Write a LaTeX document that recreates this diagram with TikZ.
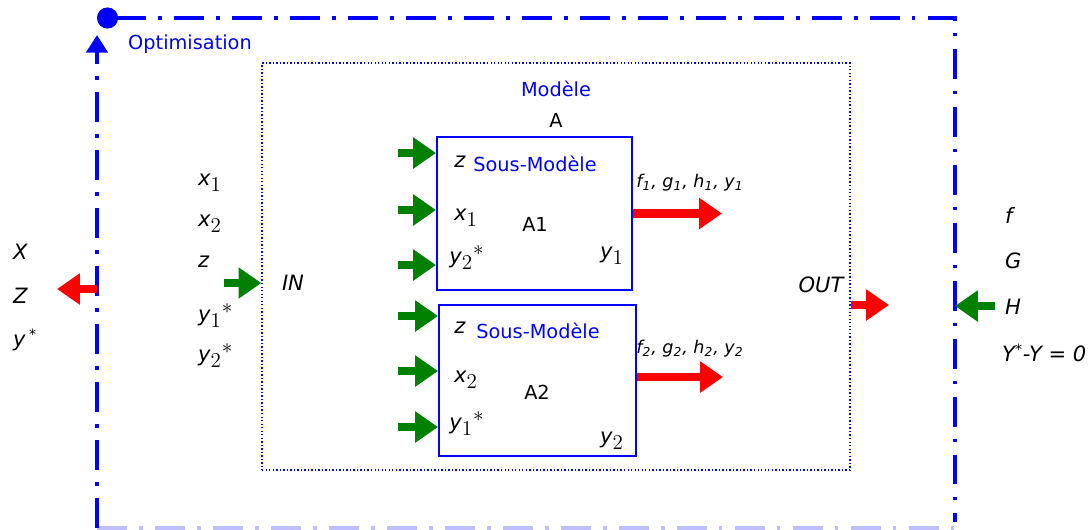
\documentclass[tikz,border=0pt]{standalone}
\usepackage[no-math]{fontspec}
\setmainfont{DejaVu Sans}
\usepackage{tikz}
\usetikzlibrary{positioning,arrows.meta}

\newcommand{\vsub}[1]{$_{\textstyle #1}$}
\newcommand{\vstar}{$^{\textstyle *}$}

\begin{document}
\begin{tikzpicture}[x=0.02cm, y=-0.02cm, font=\fontsize{11}{13}\selectfont, frame/.style={blue, line width=2.3pt, dash pattern=on 17pt off 7pt on 2pt off 7pt}, sub/.style={draw=blue, line width=1.1pt, minimum width=3.9cm, minimum height=3.06cm, inner sep=0pt}, inarrow/.style={-{Triangle[width=17pt,length=13pt]}, line width=5pt, green!50!black}, outarrow/.style={-{Triangle[width=17pt,length=13pt]}, line width=5pt, red}, var/.style={inner sep=1pt, font=\fontsize{12}{14}\selectfont\itshape}, res/.style={inner sep=1pt, font=\fontsize{10}{12}\selectfont\itshape}]

\useasboundingbox (0,0) rectangle (1091,529);

% cadre optimisation
\coordinate (tl) at (97,18);
\coordinate (tr) at (955,18);
\coordinate (re) at (955,522);
\coordinate (br) at (955,528);
\coordinate (bl) at (97,528);
\coordinate (lt) at (97,35);
\draw[frame, {Circle[length=12pt]}-] (tl) -- (tr) -- (re);
\draw[frame, blue!25] (bl) -- (br);
\draw[frame, -{Triangle[width=12pt,length=10pt]}] (bl) -- (lt);
\node[blue] (opt) at (190,44) {Optimisation};

% modele
\node[draw=blue, line width=0.8pt, dash pattern=on 0.8pt off 1.2pt, minimum width=11.76cm, minimum height=8.14cm] (modele) at (556,266.5) {};
\node[blue] (modlbl) at (556,89) {Modèle};
\node (A) at (556,120) {A};

% sous-modeles
\node[sub] (A1) at (534.5,213.5) {};
\node[sub, minimum width=3.94cm, minimum height=3.02cm] (A2) at (537.5,380.5) {};

\node[var] (z1) at (460,162) {z};
\node[blue] (sm1) at (535,164) {Sous-Modèle};
\node[var] (x1) at (466,218) {x\vsub{1}};
\node (a1) at (535,224) {A1};
\node[var] (ys2) at (467,258) {y\vsub{2}\vstar};
\node[var] (y1) at (612,256) {y\vsub{1}};

\node[var] (z2) at (460,328) {z};
\node[blue] (sm2) at (538,331) {Sous-Modèle};
\node[var] (x2) at (466,380) {x\vsub{2}};
\node (a2) at (537,392) {A2};
\node[var] (ys1) at (467,424) {y\vsub{1}\vstar};
\node[var] (y2) at (612,441) {y\vsub{2}};

\foreach \y [count=\i] in {153,210,265} {
 \coordinate (ia\i) at (398,\y);
 \path (ia\i) edge[inarrow] (ia\i -| A1.west);
}
\foreach \y [count=\i] in {316,371,427} {
 \coordinate (ib\i) at (398,\y);
 \path (ib\i) edge[inarrow] (ib\i -| A2.west);
}

\coordinate (o1) at (722,213.5);
\coordinate (o2) at (723,377);
\path
 (A1.east) edge[outarrow] (o1)
 (A2.east |- o2) edge[outarrow] (o2);
\node[res] (r1) at (690,183) {f\textsubscript{1}, g\textsubscript{1}, h\textsubscript{1}, y\textsubscript{1}};
\node[res] (r2) at (690,349) {f\textsubscript{2}, g\textsubscript{2}, h\textsubscript{2}, y\textsubscript{2}};

% entrees
\node[var, anchor=west] (ex1) at (196,183) {x\vsub{1}};
\node[var, anchor=west] (ex2) at (196,224) {x\vsub{2}};
\node[var, anchor=west] (ez) at (196,262) {z};
\node[var, anchor=west] (ey1) at (196,316) {y\vsub{1}\vstar};
\node[var, anchor=west] (ey2) at (196,356) {y\vsub{2}\vstar};
\coordinate (inS) at (224,283);
\path (inS) edge[inarrow] (inS -| modele.west);
\node[var] (in) at (293,283) {IN};

% sorties
\node[var] (out) at (821,285) {OUT};
\coordinate (outE) at (889,305);
\path (outE -| modele.east) edge[outarrow] (outE);

\node[var, anchor=west] (f) at (1003,215) {f};
\node[var, anchor=west] (G) at (1003,261) {G};
\node[var, anchor=west] (H) at (1003,307) {H};
\node[var, anchor=west] (cst) at (1000,353) {Y\textsuperscript{*}-Y = 0};
\coordinate (hS) at (995,306);
\path (hS) edge[inarrow] (hS -| br);

\node[var, anchor=west] (X) at (11,252) {X};
\node[var, anchor=west] (Z) at (11,296) {Z};
\node[var, anchor=west] (ys) at (11,340) {y\,\textsuperscript{*}};
\coordinate (zE) at (57,289);
\path (zE -| bl) edge[outarrow] (zE);
\end{tikzpicture}
\end{document}
